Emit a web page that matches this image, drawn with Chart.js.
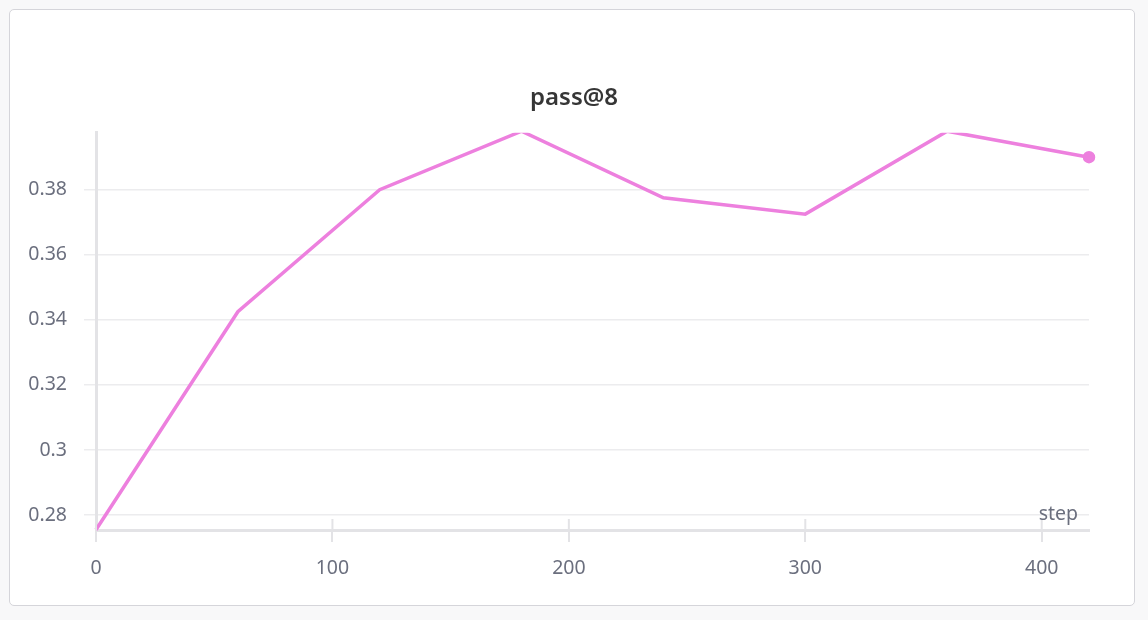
<!DOCTYPE html>
<html>
<head>
<meta charset="utf-8">
<script src="https://cdn.jsdelivr.net/npm/chart.js@4.4.0/dist/chart.umd.min.js"></script>
<style>
  body { margin: 0; background: #f8f8f9; }
  #panel { position: absolute; left: 9px; top: 9px; width: 1124px; height: 595px; background: #fff; border: 1.5px solid #d5d5da; border-radius: 5px; }
  #wrap { position: absolute; left: 0; top: 0; width: 1148px; height: 620px; }
</style>
</head>
<body>
<div id="panel"></div>
<div id="wrap"><canvas id="grafico" width="1148" height="620"></canvas></div>
<script>
// dados do painel pass@8
const steps = [0, 60, 120, 180, 240, 300, 360, 420]
const passAt8 = [0.2755, 0.3425, 0.38, 0.398, 0.3775, 0.3725, 0.398, 0.39]
const xTicks = [0, 100, 200, 300, 400]
const yTicks = [0.28, 0.30, 0.32, 0.34, 0.36, 0.38]

const corTexto = "#6b6f7e"
const corEixo = "#e3e3e6"

// marcas do eixo x que cruzam a linha do eixo + rotulo "step"
const extras = {
    id: "extras",
    afterDraw(chart) {
        const ctx = chart.ctx
        const x = chart.scales.x
        const area = chart.chartArea
        ctx.save()
        ctx.strokeStyle = corEixo
        ctx.lineWidth = 2
        xTicks.forEach(function(v) {
            const px = x.getPixelForValue(v)
            ctx.beginPath()
            ctx.moveTo(px, area.bottom - 11)
            ctx.lineTo(px, area.bottom)
            ctx.stroke()
        })
        ctx.fillStyle = corTexto
        ctx.font = "19.5px 'Noto Sans'"
        ctx.textAlign = "right"
        ctx.textBaseline = "alphabetic"
        ctx.fillText("step", area.right - 11, area.bottom - 10)
        ctx.restore()
    }
}

new Chart(document.getElementById("grafico"), {
    type: "line",
    data: {
        labels: steps,
        datasets: [{
            label: "pass@8",
            data: steps.map(function(s, i) { return { x: s, y: passAt8[i] } }),
            borderColor: "#ed80de",
            backgroundColor: "#ed80de",
            borderWidth: 3.5,
            pointRadius: steps.map(function(s, i) { return i == steps.length - 1 ? 4.5 : 0 }),
            pointHoverRadius: 0,
            tension: 0,
            clip: { left: 5, top: 0, right: 8, bottom: 5 }
        }]
    },
    plugins: [extras],
    options: {
        responsive: false,
        animation: false,
        devicePixelRatio: 1,
        layout: { padding: 0 },
        plugins: {
            legend: { display: false },
            tooltip: { enabled: false },
            title: {
                display: true,
                text: "pass@8",
                color: "#363636",
                font: { family: "'Noto Sans'", size: 24, weight: "600", lineHeight: 1.2 },
                padding: { top: 84, bottom: 20 }
            }
        },
        scales: {
            x: {
                type: "linear",
                min: 0,
                max: 420,
                afterBuildTicks: function(scale) { scale.ticks = xTicks.map(function(v) { return { value: v } }) },
                afterFit: function(scale) { scale.height = 90 },
                grid: { display: true, drawOnChartArea: false, color: corEixo, lineWidth: 2, tickLength: 12 },
                border: { display: true, color: corEixo, width: 3 },
                ticks: { color: corTexto, padding: 15, font: { family: "'Noto Sans'", size: 19.5 } }
            },
            y: {
                min: 0.2754,
                max: 0.3975,
                afterBuildTicks: function(scale) { scale.ticks = yTicks.map(function(v) { return { value: v } }) },
                afterFit: function(scale) { scale.width = 96 },
                grid: { color: "#ececee", lineWidth: 1.5, tickLength: 12 },
                border: { display: true, color: corEixo, width: 3 },
                ticks: {
                    color: corTexto,
                    padding: 17,
                    font: { family: "'Noto Sans'", size: 19.5 },
                    callback: function(v) { return String(Number(v.toFixed(2))) }
                }
            },
            // eixo vazio a direita, so para reservar espaco
            margem: {
                position: "right",
                display: true,
                afterFit: function(scale) { scale.width = 59 },
                grid: { display: false },
                border: { display: false },
                ticks: { display: false }
            }
        }
    }
});
</script>
</body>
</html>
